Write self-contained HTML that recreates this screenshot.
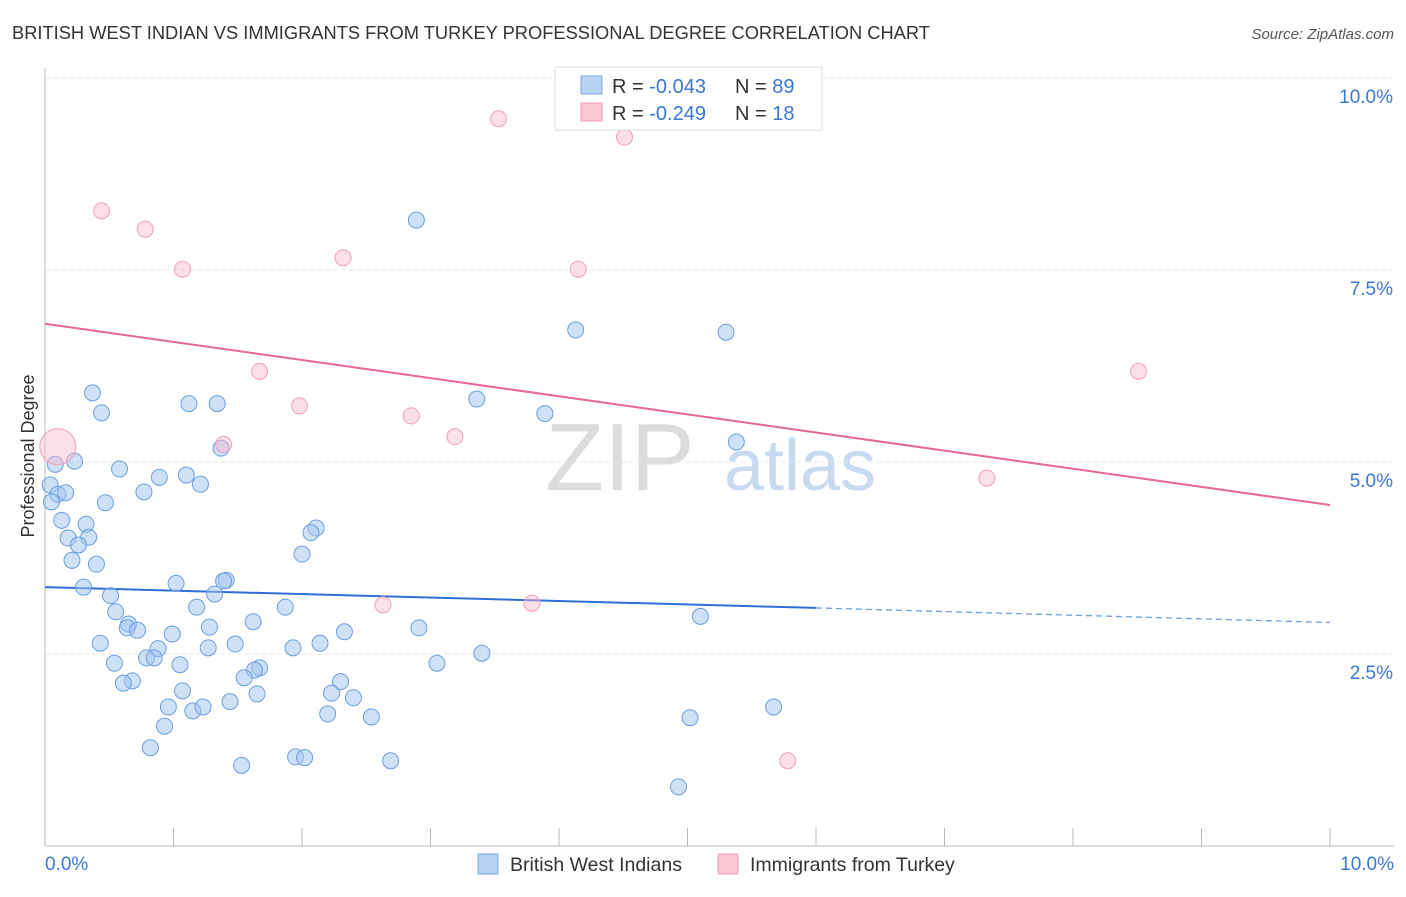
<!DOCTYPE html>
<html><head><meta charset="utf-8"><style>
body{margin:0;background:#fff;font-family:"Liberation Sans",sans-serif;}
svg text{font-family:"Liberation Sans",sans-serif;}
</style></head><body>
<svg id="chart" width="1406" height="892" xmlns="http://www.w3.org/2000/svg">
<text x="12" y="39" font-size="18.3" fill="#333">BRITISH WEST INDIAN VS IMMIGRANTS FROM TURKEY PROFESSIONAL DEGREE CORRELATION CHART</text>
<text x="1394" y="39" font-size="15" fill="#555" font-style="italic" text-anchor="end">Source: ZipAtlas.com</text>
<text x="620" y="490" font-size="96" fill="#dcdcdc" font-family="Liberation Serif" text-anchor="middle">ZIP</text>
<text x="800" y="490" font-size="72" fill="#c8daf0" text-anchor="middle">atlas</text>
<g id="grid"></g><g id="axes"></g><g id="lines"></g><g id="pts"></g>
<text transform="translate(34,456) rotate(-90)" font-size="18" fill="#333" text-anchor="middle">Professional Degree</text>
<g>
<rect x="555" y="67" width="267" height="63" fill="#fff" stroke="#ddd"/>
<rect x="581" y="76" width="21" height="18" fill="#b8d2f4" stroke="#7aa8e6"/>
<rect x="581" y="103" width="21" height="18" fill="#f9c6d4" stroke="#f0a0b8"/>
<text x="612" y="93" font-size="20" fill="#333">R = <tspan fill="#3a78d4">-0.043</tspan><tspan x="735">N = </tspan><tspan fill="#3a78d4">89</tspan></text>
<text x="612" y="120" font-size="20" fill="#333">R = <tspan fill="#3a78d4"> -0.249</tspan><tspan x="735">N = </tspan><tspan fill="#3a78d4"> 18</tspan></text>
</g>
<g>
<rect x="478" y="854" width="20" height="20" fill="#b8d2f4" stroke="#7aa8e6"/>
<text x="510" y="871" font-size="19.5" fill="#333">British West Indians</text>
<rect x="718" y="854" width="20" height="20" fill="#f9c6d4" stroke="#f0a0b8"/>
<text x="750" y="871" font-size="19.5" fill="#333">Immigrants from Turkey</text>
</g>
</svg>
<script>
const blueX=[2.89,4.13,5.30,0.37,0.44,1.12,1.34,3.36,3.89,5.38,1.37,0.08,0.23,0.58,0.89,1.10,1.21,0.04,0.10,0.16,0.77,0.05,0.47,0.13,0.32,0.18,0.34,0.26,2.11,2.07,2.00,0.21,0.40,1.02,1.41,1.39,0.30,0.51,1.32,1.18,1.87,0.55,0.65,0.64,0.72,1.28,1.62,0.99,2.33,2.91,5.10,0.43,1.48,1.27,1.93,2.14,0.88,0.79,0.85,0.54,1.05,3.05,3.40,1.67,1.63,1.55,0.68,0.61,2.30,1.07,1.65,2.23,2.40,0.96,1.15,1.23,1.44,2.20,2.54,5.02,5.67,0.93,0.82,1.95,2.02,1.53,2.69,4.93];
const blueY=[8.15,6.72,6.69,5.90,5.64,5.76,5.76,5.82,5.63,5.26,5.18,4.97,5.01,4.91,4.80,4.83,4.71,4.70,4.58,4.60,4.61,4.48,4.47,4.24,4.19,4.01,4.02,3.92,4.14,4.08,3.80,3.72,3.67,3.42,3.46,3.45,3.37,3.26,3.28,3.11,3.11,3.05,2.89,2.84,2.81,2.85,2.92,2.76,2.79,2.84,2.99,2.64,2.63,2.58,2.58,2.64,2.57,2.45,2.45,2.38,2.36,2.38,2.51,2.32,2.29,2.19,2.15,2.12,2.14,2.02,1.98,1.99,1.93,1.81,1.76,1.81,1.88,1.72,1.68,1.67,1.81,1.56,1.28,1.16,1.15,1.05,1.11,0.77];
const pinkX=[0.10,0.44,0.78,1.07,2.32,3.53,4.51,4.15,1.67,1.98,2.85,3.19,1.39,8.51,7.33,2.63,3.79,5.78];
const pinkY=[5.20,8.27,8.03,7.51,7.66,9.47,9.23,7.51,6.18,5.73,5.60,5.33,5.23,6.18,4.79,3.14,3.16,1.11];
const pinkR=[18,8,8,8,8,8,8,8,8,8,8,8,8,8,8,8,8,8];
const blueTrend=[3.37,3.10,2.91]; // at x=0, 6, 10
const pinkTrend=[6.80,4.44]; // at x=0, 10
const yTicks=[2.5,5.0,7.5,10.0];
const xTicks=[0,1,2,3,4,5,6,7,8,9,10];
const NS="http://www.w3.org/2000/svg";
const sx=v=>45+v*128.5, sy=v=>846-v*76.8;
function mk(t,a,p){const e=document.createElementNS(NS,t);for(const k in a)e.setAttribute(k,a[k]);document.getElementById(p).appendChild(e);return e;}
yTicks.forEach(t=>{
 const g=mk('line',{x1:45,x2:1394,y1:sy(t),y2:sy(t),stroke:'#e4e4e4','stroke-dasharray':'4,4'},'grid');
 
 
 const l=mk('text',{x:1393,y:sy(t)+25,'font-size':19,fill:'#3a78d4','text-anchor':'end'},'grid');
 l.textContent=t.toFixed(1)+'%';
 
 
});
const ax=mk('line',{x1:45,x2:1394,y1:846,y2:846,stroke:'#bbb'},'axes');


const ay=mk('line',{x1:45,x2:45,y1:68,y2:846,stroke:'#bbb'},'axes');


xTicks.forEach(t=>{
 const k=mk('line',{x1:sx(t),x2:sx(t),y1:828,y2:846,stroke:'#bbb'},'axes');
 
 
});
[[0,'0.0%','start',45],[10,'10.0%','end',1394]].forEach(a=>{
 const l=mk('text',{x:a[3],y:870,'font-size':19,fill:'#3a78d4','text-anchor':a[2]},'axes');
 l.textContent=a[1];
 
 
});
const b1=mk('line',{x1:sx(0),y1:sy(blueTrend[0]),x2:sx(6),y2:sy(blueTrend[1]),stroke:'#2f6fd6','stroke-width':2},'lines');


const b2=mk('line',{x1:sx(6),y1:sy(blueTrend[1]),x2:sx(10),y2:sy(blueTrend[2]),stroke:'#6a9fe0','stroke-width':1.3,'stroke-dasharray':'6,4'},'lines');


const p1=mk('line',{x1:sx(0),y1:sy(pinkTrend[0]),x2:sx(10),y2:sy(pinkTrend[1]),stroke:'#e8679a','stroke-width':2},'lines');


blueX.forEach((x,i)=>{
 const c=mk('circle',{cx:sx(x),cy:sy(blueY[i]),r:8,fill:'rgba(160,196,240,0.5)',stroke:'#6a9fe0','stroke-width':1},'pts');
 
 
});
pinkX.forEach((x,i)=>{
 const c=mk('circle',{cx:sx(x),cy:sy(pinkY[i]),r:pinkR[i],fill:'rgba(248,184,204,0.45)',stroke:'#f0a0b8','stroke-width':1},'pts');
 
 
});
</script>
</body></html>
